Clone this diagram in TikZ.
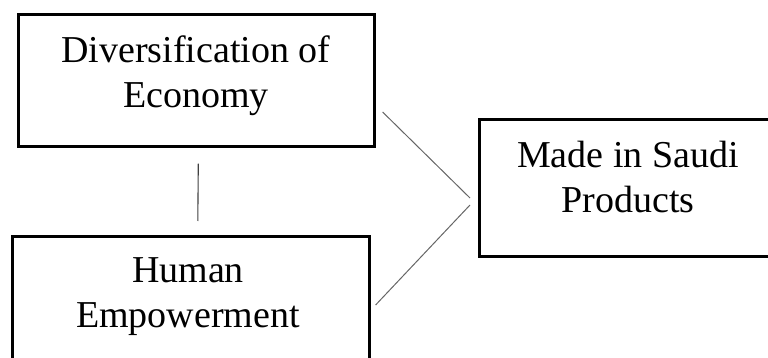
\documentclass[tikz,border=0pt]{standalone}
\usepackage{fontspec}
\setmainfont{Liberation Serif}
\usetikzlibrary{calc}
\tikzset{
  boxshape/.style={draw=black, line width=2.6pt, rectangle, inner sep=0pt, anchor=north west},
  label/.style={align=center, inner sep=0pt, font=\fontsize{38}{45}\selectfont, anchor=base},
  link/.style={draw=black!75, line width=1.1pt},
  diag/.style={draw=black!60, line width=1pt}
}
\begin{document}
\begin{tikzpicture}[x=1pt,y=-1pt]
\useasboundingbox (0,0) rectangle (768,358);
\clip (0,0) rectangle (768,358);
\node[boxshape, minimum width=356pt, minimum height=132pt] (eco) at (17,13) {};
\node[boxshape, minimum width=357pt, minimum height=150pt] (hum) at (11,235) {};
\node[boxshape, minimum width=300pt, minimum height=137pt] (msp) at (478,118) {};
\node[label] (ecotext) at (196,108) {Diversification of\\Economy};
\node[label] (humtext) at (188,327) {Human\\Empowerment};
\node[label] (msptext) at (628,212) {Made in Saudi\\Products};
\coordinate (d1a) at ($(eco.north east)+(7,99)$);
\coordinate (d1b) at ($(msp.north west)+(-8,80)$);
\coordinate (d2a) at ($(msp.north west)+(-8,87)$);
\coordinate (d2b) at ($(hum.north east)+(5,70)$);
\draw[link] ($(eco.south)+(2,16)$) -- ($(hum.north)+(7,-14)$);
\draw[diag] (d1a) -- (d1b);
\draw[diag] (d2a) -- (d2b);
\end{tikzpicture}
\end{document}
